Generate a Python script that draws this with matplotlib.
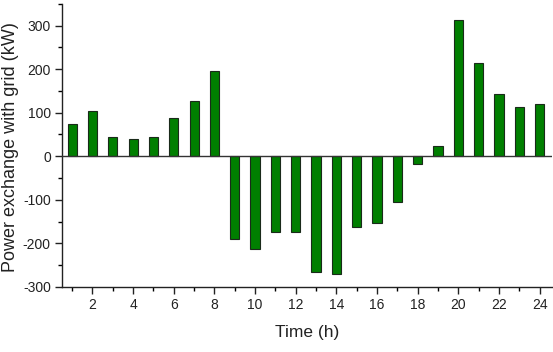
import matplotlib
matplotlib.use("Agg")
import matplotlib.pyplot as plt
from matplotlib.ticker import MultipleLocator

hours = list(range(1, 25))
power = [75, 104, 44, 39, 44, 89, 127, 195, -190, -213, -175, -174,
         -265, -271, -163, -153, -106, -18, 24, 312, 214, 143, 114, 119]
xticks = [2, 4, 6, 8, 10, 12, 14, 16, 18, 20, 22, 24]
yticks = [-300, -200, -100, 0, 100, 200, 300]

plt.rcParams['font.family'] = ['Liberation Sans', 'DejaVu Sans']
plt.rcParams['axes.unicode_minus'] = False

fig = plt.figure(figsize=(5.53, 3.52), dpi=100)
ax = fig.add_axes([0.112, 0.185, 0.886, 0.804])

ax.bar(hours, power, width=0.45, color='#007f00', edgecolor='#1a2a1a', linewidth=0.8, zorder=3)
ax.axhline(0, color='#333333', linewidth=1.0, zorder=4)

ax.set_xlim(0.5, 24.6)
ax.set_ylim(-300, 350)
ax.set_xticks(xticks)
ax.set_yticks(yticks)
ax.xaxis.set_minor_locator(MultipleLocator(1))
ax.yaxis.set_minor_locator(MultipleLocator(50))
ax.tick_params(which='major', direction='out', length=5, width=1.0, labelsize=10, colors='#222222', pad=3)
ax.tick_params(which='minor', direction='out', length=3, width=1.0)

for s in ['top', 'right']:
    ax.spines[s].set_visible(False)
for s in ['left', 'bottom']:
    ax.spines[s].set_linewidth(1.0)
    ax.spines[s].set_color('#222222')

ax.set_xlabel('Time (h)', fontsize=12.5, color='#222222')
ax.xaxis.set_label_coords(0.5, -0.135)
ax.set_ylabel('Power exchange with grid (kW)', fontsize=13, color='#222222')
ax.yaxis.set_label_coords(-0.088, 0.493)

fig.savefig('out.png', dpi=100)
